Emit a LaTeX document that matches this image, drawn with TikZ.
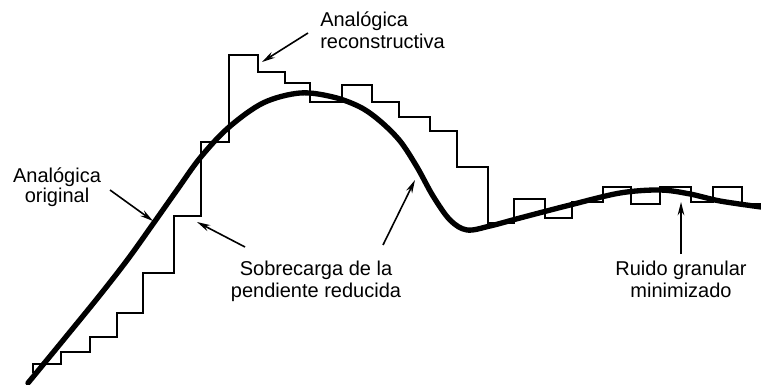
\documentclass[tikz,border=0pt]{standalone}
\usepackage{fontspec}
\setmainfont{Liberation Sans}
\usetikzlibrary{arrows.meta}
\begin{document}
\begin{tikzpicture}[x=0.75pt,y=-0.75pt,
  stairline/.style={line width=2.1pt, line join=miter},
  signal/.style={line width=4pt, line cap=round, line join=round},
  lbl/.style={inner sep=0pt, anchor=base, font=\fontsize{15}{18}\selectfont},
  pointer/.style={line width=1.2pt, -{Stealth[length=10pt,width=5pt]}}]
\useasboundingbox (0,0) rectangle (761,385);

% reconstructed (staircase) signal
\draw[stairline] (33,373) -- (33,364) -- (61,364) -- (61,352) -- (90,352) -- (90,337)
  -- (117,337) -- (117,313) -- (143,313) -- (143,273) -- (174,273) -- (174,216)
  -- (201,216) -- (201,142) -- (229,142) -- (229,55) -- (258,55) -- (258,72)
  -- (285,72) -- (285,83) -- (310,83) -- (310,102) -- (342,102) -- (342,85)
  -- (372,85) -- (372,102) -- (399,102) -- (399,117) -- (430,117) -- (430,131)
  -- (457,131) -- (457,167) -- (488,167) -- (488,223) -- (514,223) -- (514,199)
  -- (545,199) -- (545,218) -- (572,218) -- (572,202) -- (603,202) -- (603,187)
  -- (631,187) -- (631,204) -- (660,204) -- (660,187) -- (691,187) -- (691,202)
  -- (713,202) -- (713,187) -- (742,187) -- (742,204) -- (761,204);

% original analog signal
\draw[signal] plot[smooth, tension=0.55] coordinates {
  (28,383) (65,338) (100,295) (128,259) (153,224) (177,190) (200,158) (228,128)
  (263,103) (300,93) (333,97) (360,107) (380,121) (400,141) (417,167) (433,196)
  (450,220) (467,230) (490,226) (520,218) (570,205) (620,193) (660,190) (690,194)
  (720,201) (761,207)};

% labels
\node[lbl, anchor=base west] (up1) at (320,27) {Analógica};
\node[lbl, anchor=base west] (up2) at (320,49) {reconstructiva};
\node[lbl] (lf1) at (57,182) {Analógica};
\node[lbl] (lf2) at (57,202) {original};
\node[lbl] (sb1) at (316,275) {Sobrecarga de la};
\node[lbl] (sb2) at (316,297) {pendiente reducida};
\node[lbl] (rg1) at (681,275) {Ruido granular};
\node[lbl] (rg2) at (681,297) {minimizado};

% pointer ends
\coordinate (upT) at (308,33);   \coordinate (upH) at (262,62);
\coordinate (lfT) at (110,190);  \coordinate (lfH) at (153,221);
\coordinate (sbT) at (245,247);  \coordinate (sbH) at (197,222);
\coordinate (sb2T) at (383,245); \coordinate (sb2H) at (415,180);
\coordinate (rgT) at (681,254);  \coordinate (rgH) at (681,202);

\draw[pointer] (upT) -- (upH);
\draw[pointer] (lfT) -- (lfH);
\draw[pointer] (sbT) -- (sbH);
\draw[pointer] (sb2T) -- (sb2H);
\draw[pointer] (rgT) -- (rgH);
\end{tikzpicture}
\end{document}
